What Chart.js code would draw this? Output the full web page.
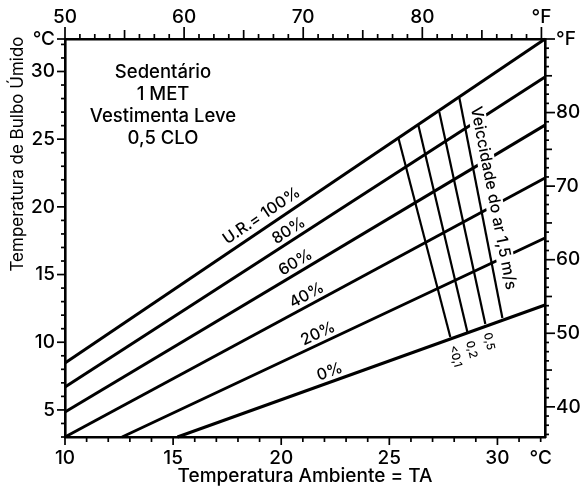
<!DOCTYPE html>
<html>
<head>
<meta charset="utf-8">
<script src="https://cdn.jsdelivr.net/npm/chart.js@4"></script>
<style>
  html, body { margin: 0; padding: 0; background: #fff; }
  canvas { display: block; }
</style>
</head>
<body>
<canvas id="chart" width="585" height="488"></canvas>
<script>
// Relative humidity lines: dry bulb (°C) and wet bulb (°C) at each end
const rhLabels   = ['U.R.= 100%', '80%', '60%', '40%', '20%', '0%'];
const rhStartTa  = [10, 10, 10, 10, 12.64, 15.2];
const rhStartTw  = [8.47, 6.69, 4.85, 3.0, 3.0, 3.0];
const rhEndTa    = [32.2, 32.2, 32.2, 32.2, 32.2, 32.2];
const rhEndTw    = [32.4, 29.59, 26.04, 22.13, 17.70, 12.75];
// dry bulb where each RH label sits
const rhLabelTa  = [19.4, 20.6, 20.9, 21.4, 21.9, 22.4];

// Air speed lines (m/s), from the 100 % line down to the 0 % line
const airLabels    = ['<0,1', '0,2', '0,5', ''];
const airTopTa     = [25.42, 26.34, 27.31, 28.24];
const airTopTw     = [25.08, 26.04, 27.00, 28.04];
const airBottomTa  = [27.82, 28.61, 29.44, 30.23];
const airBottomTw  = [10.39, 10.75, 11.35, 11.79];
const airNote      = 'Veiccidade do ar 1,5 m/s';
const airNotePos   = { ta: 29.81, tw: 20.65 };

// Axis ranges and ticks
const taRange   = [10, 32.2];     // bottom, °C
const taFRange  = [50, 90.3];     // top, °F
const twRange   = [3, 32.4];      // left, °C
const twFRange  = [35.9, 90];     // right, °F
const taTicks   = Array.from({ length: 23 }, (_, i) => 10 + i);          // 10..32
const twTicks   = Array.from({ length: 30 }, (_, i) => 3 + i).concat([32.4]);
const fTopTicks = Array.from({ length: 33 }, (_, i) => 50 + i * 1.25);    // 50..90
const fRightTicks = Array.from({ length: 44 }, (_, i) => 36.25 + i * 1.25); // 36.25..90

const infoLines = ['Sedentário', '1 MET', 'Vestimenta Leve', '0,5 CLO'];
const xTitle = 'Temperatura Ambiente = TA';
const yTitle = 'Temperatura de Bulbo Úmido';

const FONT = 'Inter, "DejaVu Sans", sans-serif';
const WT = '500';
const INK = '#000';

const datasets = [];
rhLabels.forEach((lab, i) => {
  datasets.push({
    label: lab,
    data: [{ x: rhStartTa[i], y: rhStartTw[i] }, { x: rhEndTa[i], y: rhEndTw[i] }],
    showLine: true, borderColor: INK, borderWidth: 3, pointRadius: 0,
    borderCapStyle: 'butt', clip: false
  });
});
airLabels.forEach((lab, i) => {
  datasets.push({
    label: 'air ' + i,
    data: [{ x: airTopTa[i], y: airTopTw[i] }, { x: airBottomTa[i], y: airBottomTw[i] }],
    showLine: true, borderColor: INK, borderWidth: 2.2, pointRadius: 0,
    borderCapStyle: 'butt'
  });
});

function fmtNum(v) { return String(Math.round(v)); }

function axisCommon() {
  return {
    type: 'linear',
    grid: { drawOnChartArea: false, drawTicks: false },
    border: { display: true, color: INK, width: 2.6 },
    ticks: { autoSkip: false, maxRotation: 0, color: INK, font: { family: FONT, size: 19, weight: WT } }
  };
}

const scales = {
  x: Object.assign(axisCommon(), {
    position: 'bottom', min: taRange[0], max: taRange[1],
    afterBuildTicks: s => { s.ticks = taTicks.map(v => ({ value: v })); },
    afterFit: s => { s.height = 51; },
    title: { display: true, text: xTitle, color: INK, font: { family: FONT, size: 19, weight: WT }, padding: { top: 0, bottom: 0 } }
  }),
  x2: Object.assign(axisCommon(), {
    position: 'top', min: taFRange[0], max: taFRange[1],
    afterBuildTicks: s => { s.ticks = fTopTicks.map(v => ({ value: v })); },
    afterFit: s => { s.height = 39; }
  }),
  y: Object.assign(axisCommon(), {
    position: 'left', min: twRange[0], max: twRange[1],
    afterBuildTicks: s => { s.ticks = twTicks.map(v => ({ value: v })); },
    afterFit: s => { s.width = 65; }
  }),
  y2: Object.assign(axisCommon(), {
    position: 'right', min: twFRange[0], max: twFRange[1],
    afterBuildTicks: s => { s.ticks = fRightTicks.map(v => ({ value: v })); },
    afterFit: s => { s.width = 40; }
  })
};
scales.x.ticks.padding = 10;
scales.x.ticks.callback = v => (v === 32 ? '°C' : (v % 5 === 0 ? fmtNum(v) : ''));
scales.x2.ticks.padding = 10;
scales.x2.ticks.callback = v => (v === 90 ? '°F' : (v % 10 === 0 ? fmtNum(v) : ''));
scales.y.ticks.padding = 10;
scales.y.ticks.callback = v => (v === twRange[1] ? '°C' : (v % 5 === 0 && v <= 30 ? fmtNum(v) : ''));
scales.y2.ticks.padding = 11;
scales.y2.ticks.callback = v => (v === 90 ? '°F' : (v % 10 === 0 ? fmtNum(v) : ''));

// Tick marks of different lengths, drawn outward from each axis
function tickLength(id, v) {
  if (id === 'x') return v % 5 === 0 ? 8 : 5;
  if (id === 'y') return (v % 5 === 0 || v === twRange[1]) ? 8 : 4;
  if (id === 'x2') return v % 10 === 0 ? 12 : (v % 5 === 0 ? 9 : 5);
  return v % 10 === 0 ? 10 : (v % 5 === 0 ? 7 : 4);
}

const chartDecor = {
  id: 'chartDecor',
  afterDraw(chart) {
    const ctx = chart.ctx;
    const a = chart.chartArea;
    const sx = chart.scales.x, sy = chart.scales.y;
    const font = size => WT + ' ' + size + 'px ' + FONT;
    ctx.save();
    ctx.strokeStyle = INK;
    ctx.fillStyle = INK;

    // tick marks
    ctx.lineWidth = 1.7;
    ['x', 'x2', 'y', 'y2'].forEach(id => {
      const s = chart.scales[id];
      s.ticks.forEach(t => {
        const p = s.getPixelForValue(t.value);
        const L = tickLength(id, t.value);
        ctx.beginPath();
        if (id === 'x') { ctx.moveTo(p, a.bottom); ctx.lineTo(p, a.bottom + L); }
        if (id === 'x2') { ctx.moveTo(p, a.top); ctx.lineTo(p, a.top - L); }
        if (id === 'y') { ctx.moveTo(a.left, p); ctx.lineTo(a.left - L, p); }
        if (id === 'y2') { ctx.moveTo(a.right, p); ctx.lineTo(a.right + L, p); }
        ctx.stroke();
      });
    });

    // RH labels along their lines
    ctx.font = font(16);
    ctx.textAlign = 'center';
    ctx.textBaseline = 'middle';
    rhLabels.forEach((lab, i) => {
      const x1 = sx.getPixelForValue(rhStartTa[i]), y1 = sy.getPixelForValue(rhStartTw[i]);
      const x2 = sx.getPixelForValue(rhEndTa[i]), y2 = sy.getPixelForValue(rhEndTw[i]);
      const ang = Math.atan2(y2 - y1, x2 - x1);
      const px = sx.getPixelForValue(rhLabelTa[i]);
      const py = y1 + (y2 - y1) * (px - x1) / (x2 - x1);
      ctx.save();
      ctx.translate(px, py);
      ctx.rotate(ang);
      ctx.fillText(lab, 0, i === 0 ? -12 : -10);
      ctx.restore();
    });

    // air speed labels below the lower ends
    ctx.font = font(11.5);
    ctx.textAlign = 'left';
    airLabels.forEach((lab, i) => {
      if (!lab) return;
      const x1 = sx.getPixelForValue(airTopTa[i]), y1 = sy.getPixelForValue(airTopTw[i]);
      const x2 = sx.getPixelForValue(airBottomTa[i]), y2 = sy.getPixelForValue(airBottomTw[i]);
      const ang = Math.atan2(y2 - y1, x2 - x1);
      ctx.save();
      ctx.translate(x2, y2);
      ctx.rotate(ang);
      ctx.fillText(lab, 9, 0);
      ctx.restore();
    });

    // note along the 1,5 m/s direction, with a white band under it
    {
      const i = airTopTa.length - 1;
      const x1 = sx.getPixelForValue(airTopTa[i]), y1 = sy.getPixelForValue(airTopTw[i]);
      const x2 = sx.getPixelForValue(airBottomTa[i]), y2 = sy.getPixelForValue(airBottomTw[i]);
      const ang = Math.atan2(y2 - y1, x2 - x1);
      const px = sx.getPixelForValue(airNotePos.ta), py = sy.getPixelForValue(airNotePos.tw);
      ctx.font = font(16);
      const w = ctx.measureText(airNote).width;
      ctx.save();
      ctx.translate(px, py);
      ctx.rotate(ang);
      ctx.fillStyle = '#fff';
      ctx.fillRect(-w / 2 - 2, -9, w + 4, 18);
      ctx.fillStyle = INK;
      ctx.textAlign = 'center';
      ctx.textBaseline = 'middle';
      ctx.fillText(airNote, 0, 0);
      ctx.restore();
    }

    // activity / clothing block
    ctx.font = font(18.5);
    ctx.textAlign = 'center';
    ctx.textBaseline = 'middle';
    infoLines.forEach((t, k) => {
      ctx.fillText(t, a.left + 98, a.top + 33 + k * 22);
    });

    // left axis title
    ctx.font = '400 17px ' + FONT;
    ctx.save();
    ctx.translate(18, 154);
    ctx.rotate(-Math.PI / 2);
    ctx.fillText(yTitle, 0, 0);
    ctx.restore();

    ctx.restore();
  }
};

new Chart(document.getElementById('chart'), {
  type: 'scatter',
  data: { datasets },
  options: {
    responsive: false,
    animation: false,
    layout: { padding: 0 },
    plugins: { legend: { display: false }, tooltip: { enabled: false } },
    scales
  },
  plugins: [chartDecor]
});
</script>
</body>
</html>
